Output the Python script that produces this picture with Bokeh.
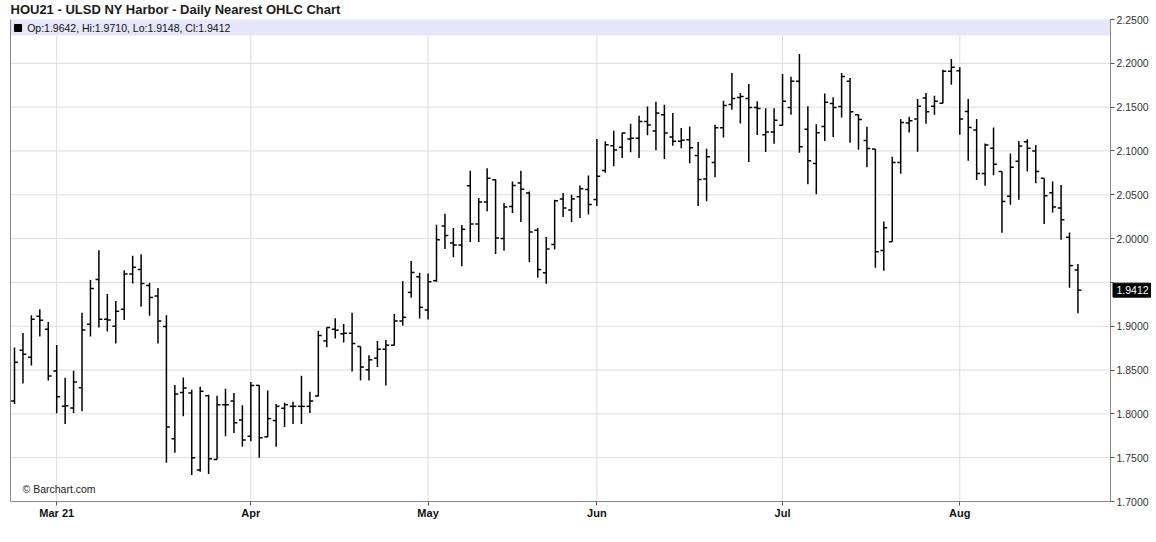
import pandas as pd
from bokeh.plotting import figure
from bokeh.models import ColumnDataSource, Range1d, FixedTicker, BoxAnnotation, Label
from bokeh.core.properties import value
from bokeh.embed import file_html
from bokeh.resources import INLINE

title_text = "HOU21 - ULSD NY Harbor - Daily Nearest OHLC Chart"
copyright_text = "\u00a9 Barchart.com"

# trading days (NYMEX holidays excluded)
holidays = ["2021-04-02", "2021-05-31", "2021-07-05"]
dates = [d for d in pd.bdate_range("2021-02-22", "2021-08-20")
         if d.strftime("%Y-%m-%d") not in holidays]

open_ = [1.8147, 1.8727, 1.8647, 1.9113, 1.8966, 1.8488, 1.8086, 1.8067, 1.8299, 1.9022,
         1.9534, 1.9079, 1.9000, 1.9193, 1.9595, 1.9648, 1.9466, 1.9345, 1.8996, 1.7715,
         1.8245, 1.8238, 1.7359, 1.8208, 1.7480, 1.8105, 1.8147, 1.7931, 1.7745, 1.8325,
         1.7738, 1.7924, 1.8064, 1.8086, 1.8086, 1.8086, 1.8204, 1.8833, 1.8966, 1.8913,
         1.8920, 1.8769, 1.8503, 1.8636, 1.8738, 1.8784, 1.9060, 1.9386, 1.9564, 1.9185,
         1.9520, 2.0144, 1.9950, 1.9928, 2.0602, 2.0166, 2.0417, 2.0671, 2.0000, 2.0367,
         2.0633, 2.0519, 2.0094, 1.9609, 1.9932, 2.0451, 2.0326, 2.0477, 2.0560, 2.0446,
         2.0776, 2.1060, 2.1041, 2.1136, 2.1144, 2.1337, 2.1227, 2.1413, 2.1159, 2.1110,
         2.1129, 2.0947, 2.0681, 2.0867, 2.1265, 2.1530, 2.1610, 2.1599, 2.1496, 2.1186,
         2.1217, 2.1293, 2.1496, 2.1794, 2.1247, 2.0858, 2.1278, 2.1542, 2.1507, 2.1794,
         2.1413, 2.1120, 2.1021, 1.9863, 1.9965, 2.0868, 2.1318, 2.1364, 2.1604, 2.1509,
         2.1543, 2.1909, 2.1916, 2.1451, 2.1238, 2.0743, 2.1032, 2.0766, 2.0484, 2.0883,
         2.1106, 2.1000, 2.0689, 2.0522, 2.0348, 2.0015, 1.9642]
high = [1.8757, 1.8924, 1.9125, 1.9193, 1.9049, 1.8787, 1.8412, 1.8492, 1.9155, 1.9527,
        1.9868, 1.9367, 1.9288, 1.9640, 1.9803, 1.9822, 1.9496, 1.9436, 1.9125, 1.8329,
        1.8416, 1.8276, 1.8310, 1.8219, 1.8208, 1.8287, 1.8238, 1.8098, 1.8363, 1.8329,
        1.8268, 1.8113, 1.8128, 1.8139, 1.8435, 1.8253, 1.8947, 1.8988, 1.9091, 1.9026,
        1.9155, 1.8769, 1.8670, 1.8833, 1.8844, 1.9140, 1.9515, 1.9743, 1.9610, 1.9602,
        2.0159, 2.0284, 2.0121, 2.0155, 2.0773, 2.0462, 2.0803, 2.0678, 2.0405, 2.0652,
        2.0773, 2.0538, 2.0121, 2.0019, 2.0443, 2.0519, 2.0500, 2.0606, 2.0719, 2.1136,
        2.1110, 2.1231, 2.1210, 2.1310, 2.1401, 2.1508, 2.1561, 2.1527, 2.1432, 2.1261,
        2.1280, 2.1102, 2.1026, 2.1299, 2.1572, 2.1889, 2.1660, 2.1763, 2.1568, 2.1488,
        2.1488, 2.1878, 2.1847, 2.2107, 2.1511, 2.1305, 2.1656, 2.1614, 2.1889, 2.1832,
        2.1416, 2.1276, 2.1021, 2.0194, 2.0933, 2.1364, 2.1390, 2.1592, 2.1661, 2.1630,
        2.1928, 2.2050, 2.1954, 2.1592, 2.1364, 2.1086, 2.1268, 2.0766, 2.0971, 2.1114,
        2.1133, 2.1068, 2.0689, 2.0651, 2.0613, 2.0071, 1.9710]
low = [1.8113, 1.8348, 1.8552, 1.8882, 1.8382, 1.8007, 1.7885, 1.8010, 1.8030, 1.8882,
       1.8985, 1.8939, 1.8803, 1.9072, 1.9489, 1.9223, 1.9121, 1.8803, 1.7442, 1.7556,
       1.7973, 1.7302, 1.7340, 1.7313, 1.7480, 1.7745, 1.7783, 1.7624, 1.7687, 1.7499,
       1.7735, 1.7624, 1.7851, 1.7885, 1.7885, 1.8010, 1.8200, 1.8761, 1.8860, 1.8814,
       1.8484, 1.8382, 1.8382, 1.8534, 1.8325, 1.8780, 1.9007, 1.9326, 1.9087, 1.9076,
       1.9507, 1.9882, 1.9787, 1.9685, 1.9962, 1.9962, 2.0311, 1.9825, 1.9860, 2.0292,
       2.0189, 1.9731, 1.9552, 1.9484, 1.9875, 2.0246, 2.0189, 2.0234, 2.0276, 2.0371,
       2.0750, 2.0825, 2.0920, 2.0985, 2.0920, 2.1178, 2.1007, 2.0909, 2.1060, 2.1030,
       2.0859, 2.0371, 2.0427, 2.0700, 2.1155, 2.1469, 2.1312, 2.0873, 2.1183, 2.0988,
       2.1083, 2.1290, 2.1412, 2.0980, 2.0621, 2.0506, 2.1114, 2.1160, 2.1381, 2.1095,
       2.1013, 2.0815, 1.9667, 1.9634, 1.9965, 2.0739, 2.1211, 2.0990, 2.1310, 2.1413,
       2.1543, 2.1756, 2.1185, 2.0888, 2.0670, 2.0602, 2.0724, 2.0068, 2.0385, 2.0443,
       2.0765, 2.0632, 2.0166, 2.0299, 1.9988, 1.9439, 1.9148]
close = [1.8590, 1.8681, 1.9079, 1.9068, 1.8431, 1.8196, 1.8094, 1.8363, 1.8958, 1.9432,
         1.9079, 1.9072, 1.9170, 1.9595, 1.9674, 1.9489, 1.9329, 1.9060, 1.7851, 1.8227,
         1.8295, 1.7499, 1.8257, 1.7488, 1.8105, 1.8105, 1.7900, 1.7702, 1.8325, 1.7727,
         1.7946, 1.8086, 1.8105, 1.8086, 1.8086, 1.8147, 1.8894, 1.8985, 1.8954, 1.8920,
         1.8803, 1.8534, 1.8617, 1.8738, 1.8784, 1.9060, 1.9102, 1.9614, 1.9216, 1.9508,
         1.9988, 2.0034, 1.9928, 2.0106, 2.0166, 2.0417, 2.0689, 2.0007, 2.0360, 2.0606,
         2.0564, 2.0076, 1.9647, 1.9882, 2.0432, 2.0348, 2.0451, 2.0568, 2.0389, 2.0712,
         2.1072, 2.1011, 2.1204, 2.1144, 2.1337, 2.1295, 2.1432, 2.1204, 2.1110, 2.1121,
         2.1038, 2.0674, 2.0935, 2.1265, 2.1519, 2.1599, 2.1622, 2.1496, 2.1484, 2.1217,
         2.1351, 2.1568, 2.1794, 2.1049, 2.0888, 2.1209, 2.1557, 2.1496, 2.1851, 2.1446,
         2.1359, 2.1028, 1.9851, 2.0125, 2.0868, 2.1326, 2.1345, 2.1509, 2.1448, 2.1566,
         2.1909, 2.1954, 2.1364, 2.1268, 2.0743, 2.1067, 2.0849, 2.0423, 2.0815, 2.1057,
         2.1030, 2.0765, 2.0488, 2.0360, 2.0215, 1.9692, 1.9412]

month_labels = ["Mar 21", "Apr", "May", "Jun", "Jul", "Aug"]
month_numbers = [3, 4, 5, 6, 7, 8]
price_ticks = [1.70, 1.75, 1.80, 1.85, 1.90, 1.95, 2.00, 2.05, 2.10, 2.15, 2.20, 2.25]

n = len(dates)
xs = list(range(n))
TICK = 0.4
src = ColumnDataSource(dict(
    x=xs, xl=[i - TICK for i in xs], xr=[i + TICK for i in xs],
    o=open_, h=high, l=low, c=close,
))

month_pos = []
for m in month_numbers:
    for i, d in enumerate(dates):
        if d.month == m:
            month_pos.append(i)
            break

FONT = "Liberation Sans"
W, H = 1152, 525     # canvas (whole canvas is the frame)
PX_X = 8.44          # pixels per trading day
PX_Y = 876.4         # pixels per price unit
FIRST_PX = 14        # pixel of first bar
TOP_PX = 19          # pixel of the top price line
X0 = (10 - FIRST_PX) / PX_X      # left edge of the plot area
XA = (1110 - FIRST_PX) / PX_X    # price axis position
YMIN, YMAX = price_ticks[0], price_ticks[-1]

p = figure(
    frame_width=W, frame_height=H,
    x_range=Range1d(-FIRST_PX / PX_X, (W - FIRST_PX) / PX_X),
    y_range=Range1d(YMAX - (H - TOP_PX) / PX_Y, YMAX + TOP_PX / PX_Y),
    y_axis_location="right",
    tools="", toolbar_location=None, output_backend="svg",
    min_border=0,
    background_fill_color="white", border_fill_color="white",
    outline_line_color=None,
)
p.xgrid.visible = False
p.ygrid.visible = False

# legend band
p.add_layout(BoxAnnotation(top=YMAX, bottom=YMAX - 16 / PX_Y, left=X0, right=XA,
                           fill_color="#e6e6fa", fill_alpha=1.0,
                           line_color=None, level="underlay"))

# grid lines (limited to the plot area)
inner = price_ticks[1:-1]
p.segment(x0=[X0] * len(inner), y0=inner, x1=[XA] * len(inner), y1=inner,
          line_color="#dcdcdc", line_width=1, level="underlay")
p.segment(x0=month_pos, y0=[YMIN] * len(month_pos), x1=month_pos,
          y1=[YMAX] * len(month_pos), line_color="#dcdcdc", line_width=1, level="underlay")
# left and bottom borders of the plot area
p.segment(x0=[X0, X0], y0=[YMIN, YMIN], x1=[X0, XA], y1=[YMAX, YMIN],
          line_color="#888888", line_width=1)

# x axis (drawn at the bottom of the plot area)
xa = p.xaxis[0]
xa.fixed_location = YMIN
xa.bounds = (X0, XA)
xa.ticker = FixedTicker(ticks=month_pos)
xa.major_label_overrides = {pos: lab for pos, lab in zip(month_pos, month_labels)}
xa.major_label_text_font = FONT
xa.major_label_text_font_style = "bold"
xa.major_label_text_font_size = "11px"
xa.major_label_text_color = "#111111"
xa.major_tick_in = 0
xa.major_tick_out = 4
xa.minor_tick_line_color = None
xa.axis_line_color = None
xa.major_tick_line_color = "#555555"
xa.major_label_standoff = 1

# y axis (right edge of the plot area)
ya = p.yaxis[0]
ya.fixed_location = XA
ya.bounds = (YMIN, YMAX)
ya.ticker = FixedTicker(ticks=price_ticks)
overrides = {t: f"{t:.4f}" for t in price_ticks}
overrides[1.95] = ""
ya.major_label_overrides = overrides
ya.major_label_text_font = FONT
ya.major_label_text_font_size = "10.5px"
ya.major_label_text_color = "#333333"
ya.major_tick_in = 0
ya.major_tick_out = 4
ya.minor_tick_line_color = None
ya.axis_line_color = "#888888"
ya.major_tick_line_color = "#555555"
ya.major_label_standoff = 2

# OHLC bars
bar_kw = dict(line_color="black", line_width=1.5, source=src)
p.segment(x0="x", y0="l", x1="x", y1="h", **bar_kw)
p.segment(x0="xl", y0="o", x1="x", y1="o", **bar_kw)
p.segment(x0="x", y0="c", x1="xr", y1="c", **bar_kw)

# title
p.text(x=[X0], y=[YMAX + 10.5 / PX_Y], text=[title_text], text_baseline="middle",
       text_font=value(FONT), text_font_style="bold", text_font_size="13px",
       text_color="#1a1a1a")

# legend-like text
p.scatter(x=[0.42], y=[YMAX - 8.5 / PX_Y], marker="square", size=7, color="black")
legend_text = f"Op:{open_[-1]:.4f}, Hi:{high[-1]:.4f}, Lo:{low[-1]:.4f}, Cl:{close[-1]:.4f}"
p.add_layout(Label(x=1.5, y=YMAX - 8.5 / PX_Y, text=legend_text, text_baseline="middle",
                   text_font=FONT, text_font_size="10.5px", text_color="#111111"))

# copyright
p.add_layout(Label(x=0.95, y=YMIN + 13 / PX_Y, text=copyright_text, text_baseline="middle",
                   text_font=FONT, text_font_size="10.5px", text_color="#222222"))

# last price marker on the axis
last = close[-1]
p.quad(left=[XA + 2.5 / PX_X], right=[XA + 40 / PX_X],
       top=[last + 7 / PX_Y], bottom=[last - 7 / PX_Y],
       fill_color="black", line_color="black")
p.text(x=[XA + 6 / PX_X], y=[last], text=[f"{last:.4f}"], text_baseline="middle",
       text_font=value(FONT), text_font_size="10.5px", text_color="white")

open("out.html", "w").write(file_html(p, INLINE))
